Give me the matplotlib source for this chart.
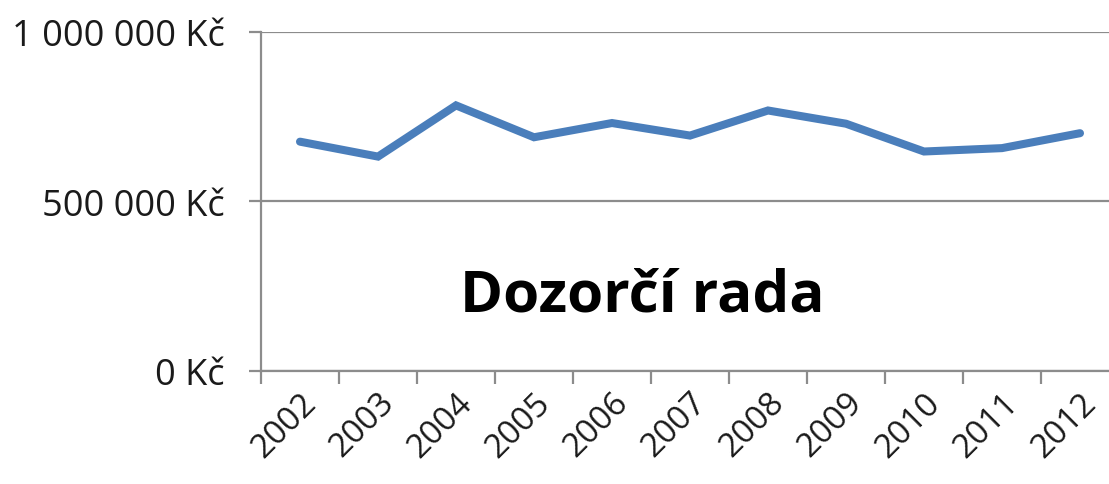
import matplotlib
matplotlib.use("Agg")
import matplotlib.pyplot as plt
from matplotlib.ticker import FuncFormatter

# data
years = ["2002", "2003", "2004", "2005", "2006", "2007",
         "2008", "2009", "2010", "2011", "2012"]
values = [675000, 631000, 782000, 688000, 730000, 693000,
          767000, 728000, 646000, 656000, 700000]
yticks = [0, 500000, 1000000]
title = "Dozorčí rada"

plt.rcParams["font.family"] = ["Open Sans", "DejaVu Sans"]
GREY = "#8c8c8c"

fig = plt.figure(figsize=(11.09, 4.85), dpi=100)
ax = fig.add_axes([261 / 1109, 113.5 / 485, 858 / 1109, 339 / 485])

x = range(len(years))
ax.plot(x, values, color="#4a7ebb", lw=5.8, solid_joinstyle="miter", solid_capstyle="round")

ax.set_xlim(-0.5, len(years) - 0.5)
ax.set_ylim(0, 1000000)
ax.set_yticks(yticks)
ax.yaxis.set_major_formatter(FuncFormatter(lambda v, p: f"{int(v):,} Kč".replace(",", " ")))
# category boundaries get the tick marks, labels sit at the centres
ax.set_xticks([i + 0.5 for i in range(-1, len(years))], minor=False)
ax.set_xticklabels([])
ax.set_xticks(list(x), minor=True)
ax.set_xticklabels(years, minor=True, rotation=45, ha="right", rotation_mode="anchor")

ax.grid(axis="y", color=GREY, lw=1.6)
ax.set_axisbelow(True)
for s in ["top", "right"]:
    ax.spines[s].set_visible(False)
for s in ["left", "bottom"]:
    ax.spines[s].set_color(GREY)
    ax.spines[s].set_linewidth(1.6)

ax.tick_params(axis="y", which="major", length=9, width=1.6, color=GREY,
               labelsize=26, pad=17, labelcolor="#1a1a1a")
ax.tick_params(axis="x", which="major", length=9, width=1.6, color=GREY)
ax.tick_params(axis="x", which="minor", length=0, labelsize=24, pad=11, labelcolor="#1a1a1a")

ax.text(0.444, 0.22, title, transform=ax.transAxes, ha="center", va="center",
        fontsize=42, fontweight="bold", color="black")

fig.savefig("out.png", dpi=100)
